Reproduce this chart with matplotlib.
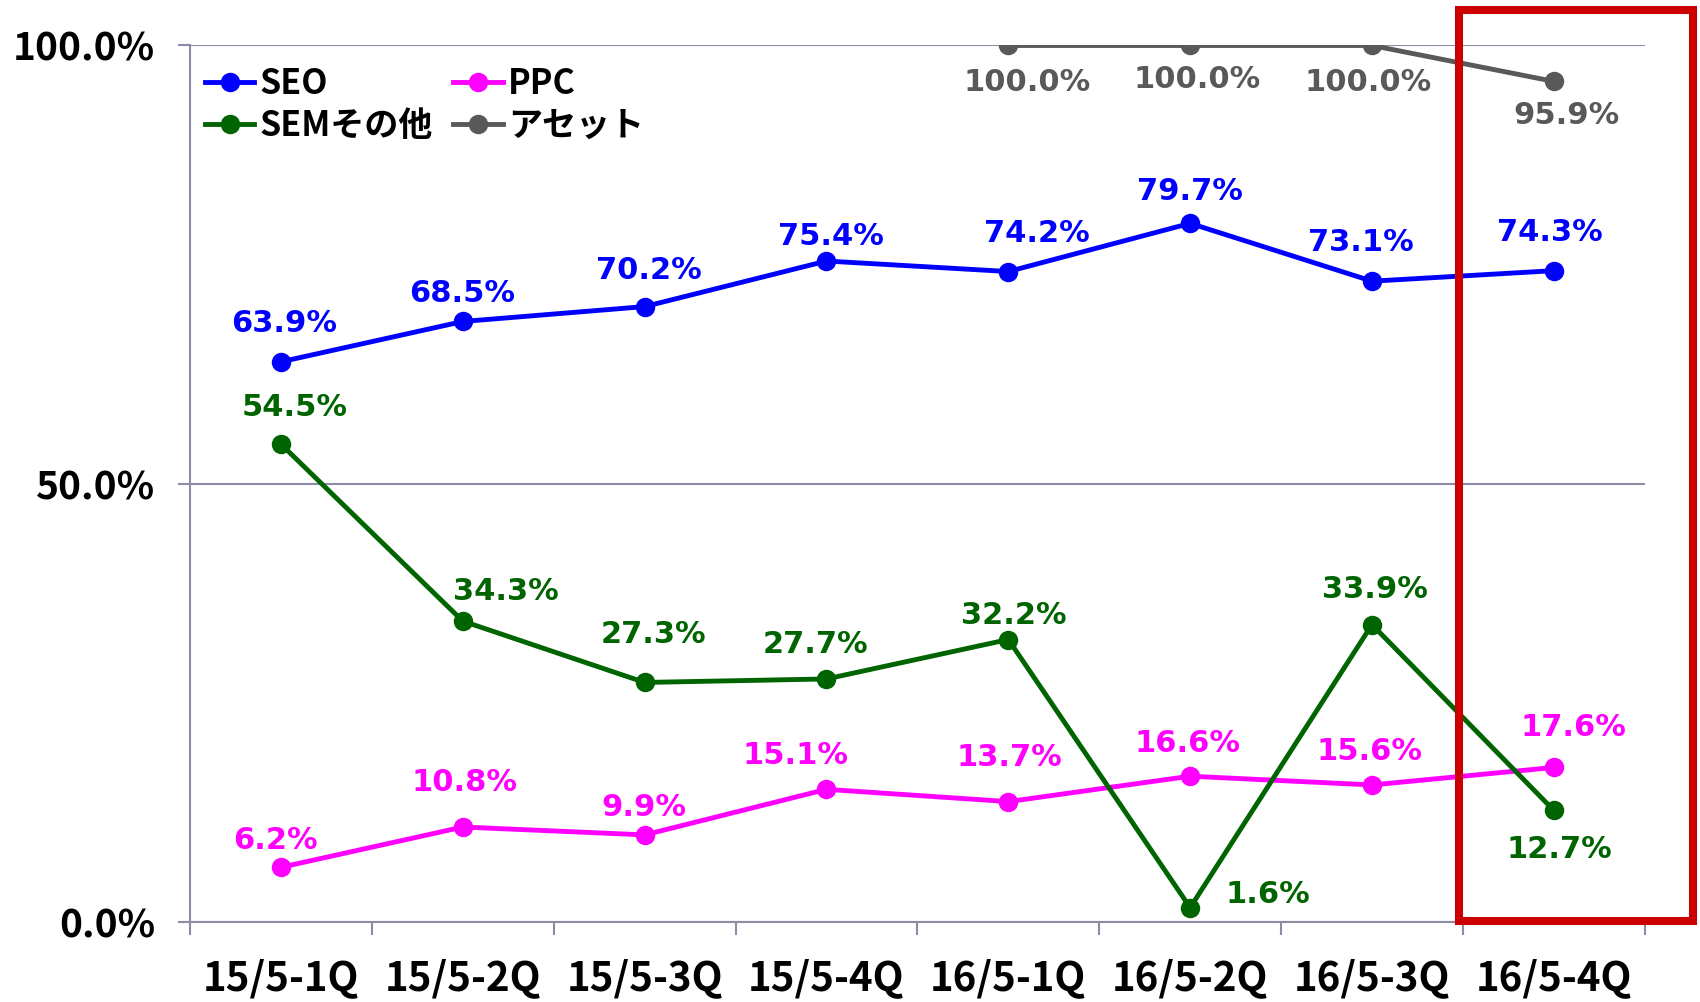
import numpy as np
import matplotlib
matplotlib.use("Agg")
import matplotlib.pyplot as plt
from matplotlib.patches import Rectangle

plt.rcParams['font.family'] = ['Noto Sans CJK JP', 'DejaVu Sans']

categories = ['15/5-1Q', '15/5-2Q', '15/5-3Q', '15/5-4Q',
              '16/5-1Q', '16/5-2Q', '16/5-3Q', '16/5-4Q']
seo = [63.9, 68.5, 70.2, 75.4, 74.2, 79.7, 73.1, 74.3]
ppc = [6.2, 10.8, 9.9, 15.1, 13.7, 16.6, 15.6, 17.6]
sem_other = [54.5, 34.3, 27.3, 27.7, 32.2, 1.6, 33.9, 12.7]
asset = [np.nan, np.nan, np.nan, np.nan, 100.0, 100.0, 100.0, 95.9]

# label offsets (px, right / up)
seo_off = [(3, 35), (-1, 26), (4, 33), (4, 23), (26, 35), (0, 29), (-10, 36), (-4, 35)]
ppc_off = [(-5, 25), (2, 41), (-1, 25), (-29, 31), (1, 41), (-2, 30), (-2, 31), (18, 37)]
sem_off = [(13, 34), (40, 27), (8, 44), (-10, 32), (5, 22), (72, 12), (3, 32), (5, -36)]
asset_off = [None, None, None, None, (17, -34), (6, -31), (-4, -34), (12, -31)]

axis_color = '#8E8BA6'

fig = plt.figure(figsize=(17, 10.02), dpi=100)
ax = fig.add_axes([0.1118, 0.0802, 0.8557, 0.8744])

x = np.arange(len(categories))
series = [
    ('SEO', seo, '#0000FF', seo_off),
    ('PPC', ppc, '#FF00FF', ppc_off),
    ('SEMその他', sem_other, '#006400', sem_off),
    ('アセット', asset, '#595959', asset_off),
]

handles = {}
for name, vals, color, offs in series:
    h, = ax.plot(x, vals, color=color, lw=3.5, marker='o', ms=13,
                 markeredgecolor=color, label=name, zorder=3)
    handles[name] = h
    for xi, v, off in zip(x, vals, offs):
        if off is None or np.isnan(v):
            continue
        ax.annotate(f'{v:.1f}%', (xi, v), xytext=(off[0] * 1.084, off[1] * 1.084),
                    textcoords='offset pixels', ha='center', va='center',
                    fontsize=22, fontweight='bold', color=color,
                    family='DejaVu Sans', zorder=4)

ax.set_xlim(-0.5, len(categories) - 0.5)
ax.set_ylim(0, 100)

ax.set_yticks([0, 50, 100])
ax.set_yticklabels(['0.0%', '50.0%', '100.0%'], fontsize=28, fontweight='bold')
ax.yaxis.grid(True, color=axis_color, lw=1.5)
ax.set_axisbelow(True)

ax.set_xticks(x)
ax.set_xticklabels(categories, fontsize=29, fontweight='bold')
ax.set_xticks(np.arange(-0.5, len(categories)), minor=True)
ax.tick_params(axis='x', which='major', length=0, pad=26)
ax.tick_params(axis='x', which='minor', length=9, width=1.5, color=axis_color, direction='out')
ax.tick_params(axis='y', length=9, width=1.5, color=axis_color, pad=16)

for side in ['top', 'right']:
    ax.spines[side].set_visible(False)
for side in ['left', 'bottom']:
    ax.spines[side].set_color(axis_color)
    ax.spines[side].set_linewidth(1.5)

leg = ax.legend([handles['SEO'], handles['SEMその他'], handles['PPC'], handles['アセット']],
                ['SEO', 'SEMその他', 'PPC', 'アセット'],
                ncol=2, loc='upper left', bbox_to_anchor=(-0.006, 1.004),
                frameon=False, handlelength=1.45, handletextpad=0.15,
                columnspacing=0.6, labelspacing=0.22, borderaxespad=0.3,
                prop={'size': 24.5, 'weight': 'bold'})

# red highlight box around the last quarter
fig.patches.append(Rectangle((1459 / 1700, 1 - 921 / 1002), 234 / 1700, 911 / 1002,
                             transform=fig.transFigure, fill=False,
                             edgecolor='#CC0000', lw=5.8, zorder=10))

fig.savefig('out.png', dpi=100)
